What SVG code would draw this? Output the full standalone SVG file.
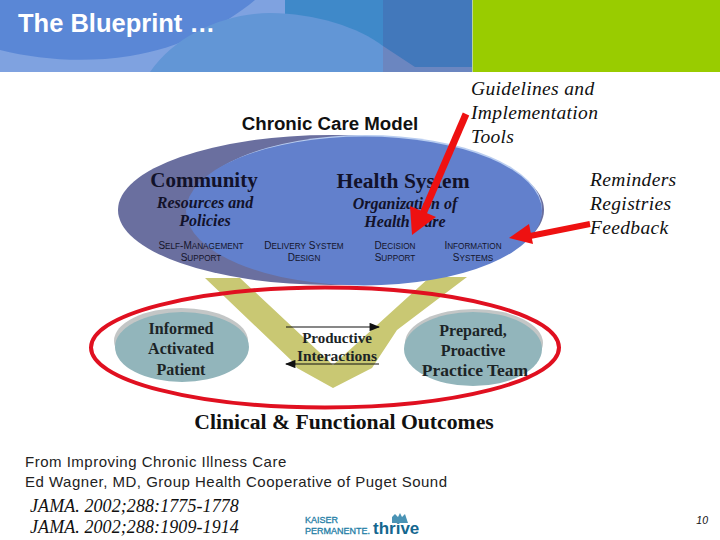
<svg xmlns="http://www.w3.org/2000/svg" width="720" height="540" viewBox="0 0 720 540">
<style>
.s{font-family:"Liberation Serif",serif;fill:#12122a}
.b{font-weight:700}
.i{font-style:italic}
.c{text-anchor:middle}
.sc{font-family:"Liberation Sans",sans-serif;font-size:10px;fill:#14142a;text-anchor:middle}
.sc tspan{font-size:8.2px}
.n{font-family:"Liberation Serif",serif;font-size:16px;fill:#1c2426;text-anchor:middle;font-weight:700}
.t{font-family:"Liberation Serif",serif;font-style:italic;font-size:19.5px;fill:#111;letter-spacing:.35px}
.f{font-family:"Liberation Sans",sans-serif;font-size:15px;fill:#222;letter-spacing:.5px}
.j{font-family:"Liberation Serif",serif;font-style:italic;font-size:18px;fill:#111;letter-spacing:.08px}
.r{stroke:#ee1111;fill:none}
</style>
<defs>
<marker id="tip" viewBox="0 0 10 8" refX="9" refY="4" markerWidth="9" markerHeight="7" orient="auto-start-reverse"><path d="M0,0L10,4L0,8Z" fill="#111"/></marker>
</defs>
<g id="header">
<rect width="473" height="72" fill="#7fa2e0"/>
<path d="M0,0H255C225,25 180,48 130,56C85,63 40,60 0,50Z" fill="#5a87d6"/>
<rect x="285" width="98" height="72" fill="#3f89c9"/>
<rect x="383" width="90" height="72" fill="#4278bb"/>
<path d="M150,72C175,35 225,13 270,13C315,13 360,28 383,46V72Z" fill="#6296d6"/>
<path d="M383,46L415,67H473V72H383Z" fill="#6b86c0"/>
<rect x="473" width="247" height="72" fill="#99cc00"/>
<rect x="472" width="1" height="72" fill="#b9d3a0"/>
<text x="18" y="32" font-family="Liberation Sans, sans-serif" font-weight="700" font-size="25.500px" fill="#fff">The Blueprint …</text>
</g>
<g id="title"><text x="330" y="130" text-anchor="middle" font-family="Liberation Sans, sans-serif" font-weight="700" font-size="18.700px" fill="#111">Chronic Care Model</text></g>
<g id="interaction-band">
<path d="M205,278L293,362L297,368L333,388L372,368L397,330L467,277H430L333,365L240,278Z" fill="#c9c873"/>
</g>
<g id="community-health">
<ellipse cx="331" cy="210" rx="213" ry="75" fill="#6a6f9f"/>
<ellipse cx="366" cy="209" rx="176" ry="74" fill="#b9cdf0"/>
<ellipse cx="364" cy="211" rx="178" ry="74.500" fill="#6280cc"/>
<text x="204" y="187" class="s c b" font-size="21px">Community</text>
<text x="205" y="208" class="s c b i" font-size="16px">Resources and</text>
<text x="205" y="226" class="s c b i" font-size="16px">Policies</text>
<text x="403" y="188" class="s c b" font-size="21.500px">Health System</text>
<text x="405" y="209" class="s c b i" font-size="16px">Organization of</text>
<text x="405" y="227" class="s c b i" font-size="16px">Health Care</text>
<text x="201" y="249" class="sc">S<tspan>ELF</tspan>-M<tspan>ANAGEMENT</tspan></text>
<text x="201" y="261" class="sc">S<tspan>UPPORT</tspan></text>
<text x="304" y="249" class="sc">D<tspan>ELIVERY</tspan> S<tspan>YSTEM</tspan></text>
<text x="304" y="261" class="sc">D<tspan>ESIGN</tspan></text>
<text x="395" y="249" class="sc">D<tspan>ECISION</tspan></text>
<text x="395" y="261" class="sc">S<tspan>UPPORT</tspan></text>
<text x="473" y="249" class="sc">I<tspan>NFORMATION</tspan></text>
<text x="473" y="261" class="sc">S<tspan>YSTEMS</tspan></text>
</g>
<g id="patient">
<ellipse cx="181" cy="341" rx="67" ry="33" fill="#c3c6c6"/>
<ellipse cx="182" cy="347" rx="67" ry="35" fill="#92b5bb"/>
<text x="181" y="334" class="n">Informed</text>
<text x="181" y="354" class="n">Activated</text>
<text x="181" y="375" class="n">Patient</text>
</g>
<g id="team">
<ellipse cx="474" cy="343" rx="69" ry="34" fill="#c3c6c6"/>
<ellipse cx="473" cy="349" rx="69" ry="37" fill="#92b5bb"/>
<text x="473" y="336" class="n">Prepared,</text>
<text x="473" y="356" class="n">Proactive</text>
<text x="475" y="376" class="n" style="font-size:17.500px">Practice Team</text>
</g>
<g id="productive"><text x="337" y="343" class="n" style="font-size:15px">Productive</text><text x="337" y="361" class="n" style="font-size:15.500px">Interactions</text></g>
<g id="outcomes"><text x="344" y="429" text-anchor="middle" font-family="Liberation Serif, serif" font-weight="700" font-size="21.700px" fill="#111">Clinical &amp; Functional Outcomes</text></g>
<g id="connectors">
<path d="M286,327H379" stroke="#111" stroke-width="1.200" fill="none" marker-end="url(#tip)"/>
<path d="M379,364H286" stroke="#111" stroke-width="1.200" fill="none" marker-end="url(#tip)"/>
<ellipse cx="325" cy="347.500" rx="234" ry="60" fill="none" stroke="#e01020" stroke-width="4"/>
<path d="M466,114L422,216" class="r" stroke-width="7"/>
<path d="M412,235L410,206L436,217Z" fill="#ee1111"/>
<path d="M590,224L525,237" class="r" stroke-width="6"/>
<path d="M509,238L529,224L533,244Z" fill="#ee1111"/>
</g>
<g id="notes">
<text x="471" y="95" class="t">Guidelines and</text>
<text x="471" y="119" class="t">Implementation</text>
<text x="471" y="143" class="t">Tools</text>
<text x="590" y="186" class="t">Reminders</text>
<text x="590" y="210" class="t">Registries</text>
<text x="590" y="234" class="t">Feedback</text>
</g>
<g id="footer">
<text x="25" y="467" class="f">From Improving Chronic Illness Care</text>
<text x="25" y="487" class="f">Ed Wagner, MD, Group Health Cooperative of Puget Sound</text>
<text x="30" y="512" class="j">JAMA. 2002;288:1775-1778</text>
<text x="30" y="533" class="j">JAMA. 2002;288:1909-1914</text>
<text x="708" y="524" text-anchor="end" font-family="Liberation Sans, sans-serif" font-style="italic" font-size="10.500px" fill="#111">10</text>
</g>
<g id="logo" fill="#1f7ea6" font-family="Liberation Sans, sans-serif">
<text x="305" y="523" font-size="9px" stroke="#1f7ea6" stroke-width=".3">KAISER</text>
<text x="305" y="534" font-size="9px" stroke="#1f7ea6" stroke-width=".3">PERMANENTE.</text>
<text x="373" y="534" font-size="17px" font-weight="700" fill="#14678f">thrive</text>
<path d="M392,523V517L395,514L398,517L400,513L402,517L405,514L408,523Z" fill="#4a93b5"/>
</g>
</svg>
